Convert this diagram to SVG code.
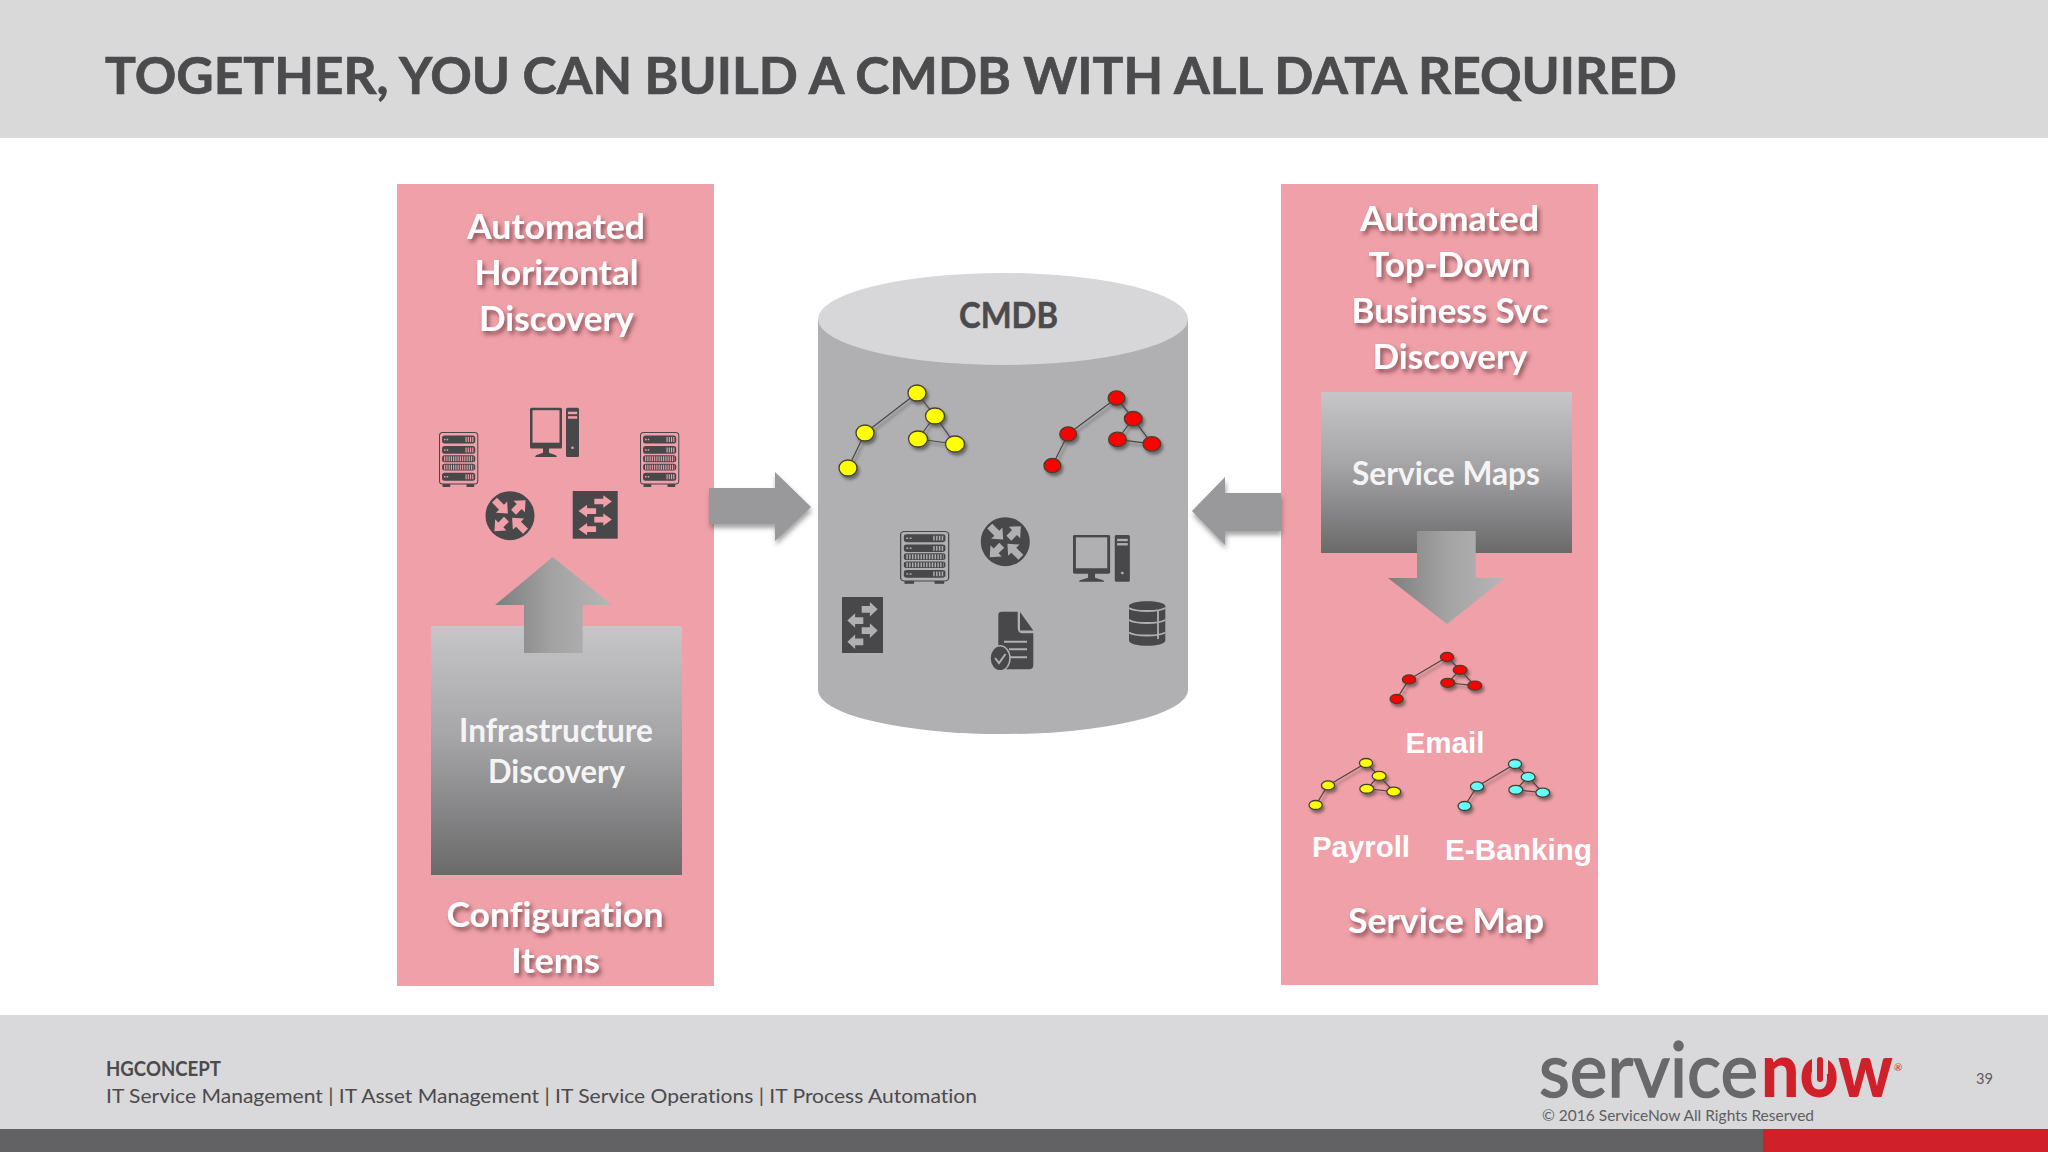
<svg xmlns="http://www.w3.org/2000/svg" xmlns:xlink="http://www.w3.org/1999/xlink" width="2048" height="1152" viewBox="0 0 2048 1152">
<style>
text{font-family:"Lato","Liberation Sans",sans-serif;font-variant-ligatures:none}
.hd{font-weight:700;font-size:35px;fill:#fff;text-anchor:middle;filter:url(#ts)}
.bx{font-weight:700;font-size:32px;fill:#f4f4f4;text-anchor:middle}
.ar{font-family:"Liberation Sans",Arial,sans-serif;font-weight:700;font-size:29px;fill:#fff}
.ft{font-size:20px;fill:#4b4a4c}
.dk{fill:#48474a}
.cut{fill:currentColor}
.lncut{fill:none;stroke:currentColor}
.edge{stroke:#4a4642;stroke-width:1.2;vector-effect:non-scaling-stroke;fill:none}
.nd{stroke:#45412e;stroke-width:1.3;vector-effect:non-scaling-stroke}
.panel{fill:#f0a0a8}
.arrow{fill:#99989b;filter:url(#as)}
</style>
<defs>
<filter id="ts" x="-15%" y="-30%" width="130%" height="170%"><feDropShadow dx="2.5" dy="3.5" stdDeviation="2" flood-color="#6a3a40" flood-opacity=".75"/></filter>
<filter id="as" x="-15%" y="-15%" width="130%" height="135%"><feDropShadow dx="1" dy="4" stdDeviation="2.5" flood-color="#555" flood-opacity=".55"/></filter>
<filter id="ns" x="-15%" y="-15%" width="135%" height="140%"><feDropShadow dx="2" dy="3" stdDeviation="1.6" flood-color="#333" flood-opacity=".55"/></filter>
<linearGradient id="boxg" x1="0" y1="0" x2="0" y2="1"><stop offset="0" stop-color="#c6c5c7"/><stop offset=".45" stop-color="#a5a4a6"/><stop offset="1" stop-color="#6a6a6b"/></linearGradient>
<linearGradient id="arrg" x1="0" y1="0" x2="1" y2="0"><stop offset="0" stop-color="#7d7e7e"/><stop offset=".5" stop-color="#a3a3a3"/><stop offset="1" stop-color="#b6b6b6"/></linearGradient>
<g id="tree">
<path class="edge" d="M0,0L-52,40M0,0L18,23M-52,40L-69,75M18,23L1,46M18,23L38,51M1,46L38,51"/>
<ellipse class="nd" cx="0" cy="0" rx="9" ry="8"/>
<ellipse class="nd" cx="18" cy="23" rx="9.5" ry="8"/>
<ellipse class="nd" cx="1" cy="46" rx="9.5" ry="8"/>
<ellipse class="nd" cx="38" cy="51" rx="9.5" ry="8"/>
<ellipse class="nd" cx="-52" cy="40" rx="9" ry="8"/>
<ellipse class="nd" cx="-69" cy="75" rx="9" ry="8"/>
</g>
<g id="server">
<rect x=".5" y=".5" width="37.5" height="51.5" rx="3" fill="none" stroke="#48474a" stroke-width="1"/>
<rect class="dk" x="3" y="3.4" width="32.5" height="8.2" rx="2.5"/><rect class="dk" x="3" y="14" width="32.5" height="7.8" rx="2.5"/>
<rect class="dk" x="3" y="23.3" width="32.5" height="7" rx="2.5"/><rect class="dk" x="3" y="31.8" width="32.5" height="6.8" rx="2.5"/>
<rect class="dk" x="3" y="40.7" width="32.5" height="8" rx="2.5"/>
<rect class="dk" x="3.5" y="52" width="7.5" height="3"/><rect class="dk" x="27" y="52" width="7.5" height="3"/>
<path class="lncut" stroke-width="5" stroke-dasharray="1.1 1.1" d="M26,7.5H34M26,18H34M26,44.7H34M5,26.8H34M5,35.2H34"/>
<path class="lncut" stroke-width="1.6" stroke-dasharray="1.4 1.2" d="M5,7.5H9M5,18H9M5,44.7H9"/>
</g>
<g id="router">
<circle class="dk" r="24.5"/>
<g class="cut">
<polygon transform="rotate(-45)" points="5,-3.5 13,-3.5 13,-8 22,0 13,8 13,3.5 5,3.5"/>
<polygon transform="rotate(135)" points="5,-3.5 13,-3.5 13,-8 22,0 13,8 13,3.5 5,3.5"/>
<polygon transform="rotate(-135)" points="22,-3.5 12,-3.5 12,-8 3,0 12,8 12,3.5 22,3.5"/>
<polygon transform="rotate(45)" points="22,-3.5 12,-3.5 12,-8 3,0 12,8 12,3.5 22,3.5"/>
</g>
</g>
<g id="switch">
<rect class="dk" width="100" height="100"/>
<g class="cut">
<polygon points="48,16 68,16 68,9 87,22 68,35 68,28 48,28"/>
<polygon points="52,36 32,36 32,29 13,42 32,55 32,48 52,48"/>
<polygon points="48,54 68,54 68,47 87,60 68,73 68,66 48,66"/>
<polygon points="52,74 32,74 32,67 13,80 32,93 32,86 52,86"/>
</g>
</g>
<g id="pc">
<rect class="dk" width="32" height="40.7" rx="1.5"/>
<rect class="cut" x="2.5" y="2.5" width="27" height="32.5"/>
<polygon class="dk" points="13,40 19,40 19,45 26,47.5 27,49.3 5,49.3 6,47.5 13,45"/>
<rect class="dk" x="36" width="13" height="49.3" rx="1.5"/>
<rect class="cut" x="38" y="4" width="9.2" height="2.5"/><rect class="cut" x="38" y="8.5" width="9.2" height="2.5"/>
<circle class="cut" cx="42.5" cy="40" r="1.3"/>
</g>
</defs>
<rect width="2048" height="1152" fill="#fff"/>
<g id="header"><rect width="2048" height="138" fill="#d9d9da"/>
<text x="105" y="94" font-size="52" font-weight="700" fill="#4b4b4d" stroke="#4b4b4d" stroke-width=".7" textLength="1572" lengthAdjust="spacingAndGlyphs">TOGETHER, YOU CAN BUILD A CMDB WITH ALL DATA REQUIRED</text></g>

<g id="left-panel">
<rect class="panel" x="397" y="184" width="317" height="802"/>
<text class="hd" x="556" y="239" textLength="178" lengthAdjust="spacingAndGlyphs">Automated</text>
<text class="hd" x="556.5" y="285" textLength="164" lengthAdjust="spacingAndGlyphs">Horizontal</text>
<text class="hd" x="556.5" y="331" textLength="155" lengthAdjust="spacingAndGlyphs">Discovery</text>
<text class="hd" x="555" y="927" textLength="217" lengthAdjust="spacingAndGlyphs">Configuration</text>
<text class="hd" x="555.5" y="973" textLength="89" lengthAdjust="spacingAndGlyphs">Items</text>
</g>
<g id="left-icons" color="#f0a0a8">
<use href="#server" xlink:href="#server" transform="translate(439,432) scale(1.02,1)"/>
<use href="#server" xlink:href="#server" transform="translate(640,432) scale(1.02,1)"/>
<use href="#pc" xlink:href="#pc" transform="translate(530,407.7)"/>
<use href="#router" xlink:href="#router" transform="translate(510,515.7)"/>
<use href="#switch" xlink:href="#switch" transform="translate(572.7,491) scale(.45,.477)"/>
</g>
<g id="infrastructure-discovery">
<rect x="431" y="626" width="251" height="249" fill="url(#boxg)"/>
<text class="bx" x="556" y="742" textLength="194" lengthAdjust="spacingAndGlyphs">Infrastructure</text>
<text class="bx" x="556.5" y="783" textLength="137" lengthAdjust="spacingAndGlyphs">Discovery</text>
</g>

<g id="cmdb">
<path d="M818,319V690A185,44 0 0 0 1188,690V319Z" fill="#b0afb1"/>
<ellipse cx="1003" cy="319" rx="185" ry="46" fill="#d7d6d8"/>
<text x="1008.5" y="328" font-size="36" font-weight="700" fill="#4b4a4c" stroke="#4b4a4c" stroke-width=".5" text-anchor="middle" textLength="99" lengthAdjust="spacingAndGlyphs">CMDB</text>
<g filter="url(#ns)" fill="#ffff00"><use href="#tree" xlink:href="#tree" transform="translate(917,393)"/></g>
<g filter="url(#ns)" fill="#ff0000"><use href="#tree" xlink:href="#tree" transform="translate(1116.5,398) scale(.93,.9)"/></g>
<g color="#b0afb1">
<use href="#server" xlink:href="#server" transform="translate(900,531) scale(1.28,.96)"/>
<use href="#router" xlink:href="#router" transform="translate(1005.3,541.7)"/>
<use href="#pc" xlink:href="#pc" transform="translate(1073,535) scale(1.16,.95)"/>
<use href="#switch" xlink:href="#switch" transform="translate(842,597) scale(.41,.56)"/>
<g id="document">
<path class="dk" d="M1002,611.7H1017.7V628Q1017.7,633.3 1023,633.3H1033.3V665Q1033.3,669.3 1029,669.3H1002Q998.3,669.3 998.3,665V615Q998.3,611.7 1002,611.7Z"/>
<polygon class="dk" points="1020,612 1033.3,630.5 1020,630.5"/>
<path class="lncut" stroke-width="2" d="M1004,641.7H1027M1009,649.3H1027M1009,657.3H1027"/>
<ellipse class="dk" cx="1000" cy="658.3" rx="10" ry="12.5" stroke="#b0afb1" stroke-width="1.5"/>
<path class="lncut" stroke-width="2" d="M995,658L999,663L1005.5,654"/>
</g>
<g id="database" transform="translate(1129,601)">
<path class="dk" d="M0,5C0,-1.5 36.3,-1.5 36.3,5V39.5C36.3,46.5 0,46.5 0,39.5Z"/>
<path class="lncut" stroke-width="1.8" d="M0,7C6,11 30,11 36.3,7M0,19C6,23 30,23 36.3,19M0,31.5C6,35.5 30,35.5 36.3,31.5M29,9.5V38"/>
</g>
</g>
</g>

<g id="right-panel">
<rect class="panel" x="1281" y="184" width="317" height="801"/>
<text class="hd" x="1449.5" y="231" textLength="179" lengthAdjust="spacingAndGlyphs">Automated</text>
<text class="hd" x="1449.5" y="277" textLength="162" lengthAdjust="spacingAndGlyphs">Top-Down</text>
<text class="hd" x="1450" y="323" textLength="197" lengthAdjust="spacingAndGlyphs">Business Svc</text>
<text class="hd" x="1450" y="369" textLength="155" lengthAdjust="spacingAndGlyphs">Discovery</text>
<text class="hd" x="1446" y="933" textLength="196" lengthAdjust="spacingAndGlyphs">Service Map</text>
</g>
<g id="service-maps">
<rect x="1321" y="392" width="251" height="161" fill="url(#boxg)"/>
<text class="bx" x="1446" y="485" textLength="188" lengthAdjust="spacingAndGlyphs">Service Maps</text>
</g>
<g id="email-map">
<g filter="url(#ns)" fill="#ff0000"><use href="#tree" xlink:href="#tree" transform="translate(1447,657) scale(.73,.56)"/></g>
<text class="ar" x="1405.5" y="752.5" textLength="79" lengthAdjust="spacingAndGlyphs">Email</text>
</g>
<g id="payroll-map">
<g filter="url(#ns)" fill="#ffff00"><use href="#tree" xlink:href="#tree" transform="translate(1366,763) scale(.73,.56)"/></g>
<text class="ar" x="1312" y="857" textLength="98" lengthAdjust="spacingAndGlyphs">Payroll</text>
</g>
<g id="ebanking-map">
<g filter="url(#ns)" fill="#66ffff"><use href="#tree" xlink:href="#tree" transform="translate(1515,764) scale(.73,.56)"/></g>
<text class="ar" x="1445" y="859.5" textLength="147" lengthAdjust="spacingAndGlyphs">E-Banking</text>
</g>

<g id="connectors">
<polygon class="arrow" points="709,488 775,488 775,472 811,507 775,541 775,524 709,524"/>
<polygon class="arrow" points="1281,493 1225,493 1225,477 1192,511 1225,545 1225,531 1281,531"/>
<polygon fill="url(#arrg)" points="524,653 524,605 495,605 552.7,557 612,605 582.7,605 582.7,653"/>
<polygon fill="url(#arrg)" points="1417,531 1475.7,531 1475.7,578 1505,578 1447,624 1388,578 1417,578"/>
</g>

<g id="footer">
<rect y="1015" width="2048" height="114" fill="#d9d8da"/>
<rect y="1129" width="2048" height="23" fill="#626164"/>
<rect x="1763" y="1129" width="285" height="23" fill="#d0202a"/>
<text class="ft" x="106" y="1076" font-weight="700" textLength="115" lengthAdjust="spacingAndGlyphs">HGCONCEPT</text>
<text class="ft" x="106" y="1103" textLength="871" lengthAdjust="spacingAndGlyphs">IT Service Management | IT Asset Management | IT Service Operations | IT Process Automation</text>
<text x="1539" y="1097" font-size="76" fill="#69686b" stroke="#69686b" stroke-width="1.5" textLength="219" lengthAdjust="spacingAndGlyphs">service</text>
<rect x="1600" y="1028" width="50" height="27" fill="#d9d8da"/>
<text x="1761" y="1097" font-size="76" font-weight="900" fill="#d0202a" textLength="132" lengthAdjust="spacingAndGlyphs">now</text>
<rect x="1812" y="1050" width="16" height="24" fill="#d9d8da"/>
<rect x="1817" y="1057" width="6" height="25" rx="3" fill="#d0202a"/>
<text x="1894" y="1071" font-size="10" fill="#d0202a">®</text>
<text x="1542" y="1121" font-size="16" fill="#5f5e61" textLength="272" lengthAdjust="spacingAndGlyphs">© 2016 ServiceNow All Rights Reserved</text>
<text x="1976" y="1084" font-size="16" fill="#5f5e61" textLength="17" lengthAdjust="spacingAndGlyphs">39</text>
</g>
</svg>
